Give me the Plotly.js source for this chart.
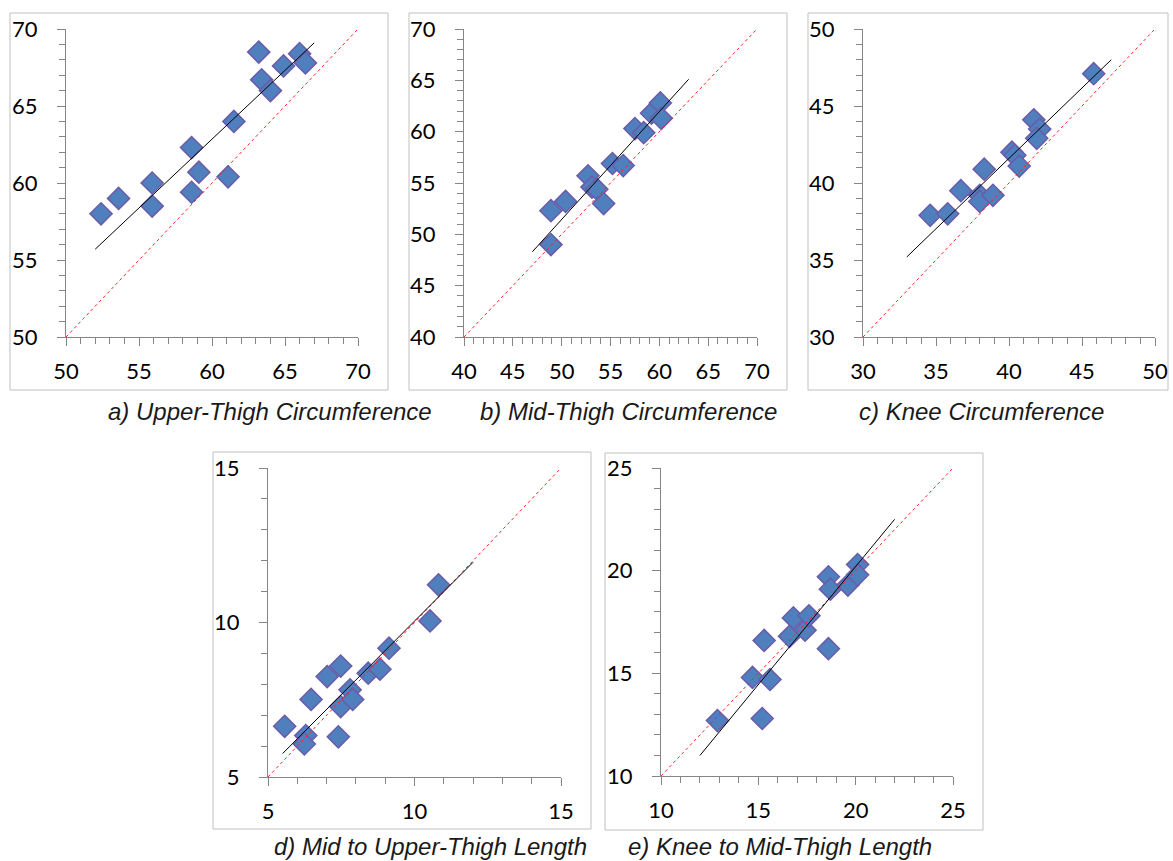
<!DOCTYPE html>
<html>
<head>
<meta charset="utf-8">
<script src="https://cdn.plot.ly/plotly-3.0.1.min.js"></script>
<style>html,body{margin:0;padding:0;background:#fff;}#chart{width:1173px;height:861px;}</style>
</head>
<body>
<div id="chart"></div>
<script>
// ---- data ----
const captions = ["a) Upper-Thigh Circumference", "b) Mid-Thigh Circumference", "c) Knee Circumference", "d) Mid to Upper-Thigh Length", "e) Knee to Mid-Thigh Length"];

const aX = [52.4, 53.6, 55.9, 55.9, 58.6, 58.6, 59.1, 61.1, 61.5, 63.2, 63.4, 64.0, 64.9, 66.0, 66.4];
const aY = [58.0, 59.0, 60.0, 58.5, 62.3, 59.4, 60.7, 60.4, 64.0, 68.5, 66.7, 66.0, 67.6, 68.4, 67.8];
const aTrendX = [52, 67], aTrendY = [55.7, 69.1];
const aRange = [50, 70];

const bX = [48.9, 48.9, 50.4, 52.7, 53.1, 53.6, 54.3, 55.2, 56.3, 57.5, 58.4, 59.2, 60.1, 60.2];
const bY = [49.0, 52.3, 53.2, 55.7, 54.6, 54.4, 53.0, 56.9, 56.7, 60.3, 59.9, 61.8, 62.8, 61.3];
const bTrendX = [47, 63], bTrendY = [48.3, 65.1];
const bRange = [40, 70];

const cX = [34.6, 35.8, 36.7, 38.0, 38.0, 38.9, 38.3, 40.2, 40.4, 40.7, 41.7, 42.1, 41.9, 45.8];
const cY = [37.9, 38.0, 39.5, 39.2, 38.8, 39.2, 40.9, 42.0, 41.8, 41.1, 44.1, 43.5, 42.9, 47.1];
const cTrendX = [33, 47], cTrendY = [35.2, 48.0];
const cRange = [30, 50];

const dX = [5.57, 6.29, 6.24, 6.47, 7.02, 7.48, 7.40, 7.48, 7.80, 7.89, 8.42, 8.82, 9.13, 10.53, 10.82];
const dY = [6.64, 6.34, 6.07, 7.51, 8.25, 8.59, 6.30, 7.28, 7.82, 7.51, 8.36, 8.49, 9.17, 10.05, 11.22];
const dTrendX = [5.5, 12], dTrendY = [5.76, 11.95];
const dRange = [5, 15];

const eX = [12.9, 15.2, 14.7, 15.6, 15.3, 16.6, 16.8, 17.4, 17.6, 18.6, 18.6, 18.7, 19.6, 20.1, 20.1];
const eY = [12.7, 12.8, 14.8, 14.7, 16.6, 16.8, 17.7, 17.1, 17.8, 16.2, 19.7, 19.1, 19.3, 20.3, 19.8];
const eTrendX = [12, 22], eTrendY = [11.0, 22.5];
const eRange = [10, 25];

// ---- layout geometry (pixels) ----
const W = 1173, H = 861;
const panels = [
  {x: aX, y: aY, tx: aTrendX, ty: aTrendY, r: aRange, plot: [66, 358, 29, 337], frame: [10, 13, 388, 390], cap: [270, 411]},
  {x: bX, y: bY, tx: bTrendX, ty: bTrendY, r: bRange, plot: [464, 757, 29, 337], frame: [409, 13, 787, 390], cap: [628, 411]},
  {x: cX, y: cY, tx: cTrendX, ty: cTrendY, r: cRange, plot: [863, 1155, 29, 337], frame: [808, 13, 1168, 390], cap: [981, 411]},
  {x: dX, y: dY, tx: dTrendX, ty: dTrendY, r: dRange, plot: [268, 561, 468, 777], frame: [213, 452, 591, 829], cap: [430, 846]},
  {x: eX, y: eY, tx: eTrendX, ty: eTrendY, r: eRange, plot: [661, 953, 468, 776], frame: [605, 453, 983, 830], cap: [780, 846]}
];

const px = v => v / W;
const py = v => 1 - v / H;
const axisColor = '#868686';

const traces = [];
const layout = {
  width: W, height: H,
  margin: {l: 0, r: 0, t: 0, b: 0},
  paper_bgcolor: '#fff', plot_bgcolor: 'rgba(0,0,0,0)',
  showlegend: false,
  shapes: [], annotations: []
};

function axis(range, dom, anchor, standoff) {
  return {
    range: range, domain: dom, anchor: anchor,
    tick0: range[0], dtick: 5,
    showline: true, linecolor: axisColor, linewidth: 1,
    ticks: 'outside', ticklen: 8, tickcolor: axisColor, tickwidth: 1,
    minor: {dtick: 1, tick0: range[0], ticks: 'outside', ticklen: 6, tickcolor: axisColor, tickwidth: 1, showgrid: false},
    showgrid: false, zeroline: false,
    tickfont: {family: 'Lato, Carlito, Calibri, sans-serif', size: 22, color: '#000'},
    ticklabelstandoff: standoff,
    fixedrange: true
  };
}

panels.forEach((p, i) => {
  const n = i === 0 ? '' : String(i + 1);
  const xa = 'x' + n, ya = 'y' + n;
  layout['xaxis' + n] = axis(p.r, [px(p.plot[0]), px(p.plot[1])], ya, 7);
  layout['yaxis' + n] = axis(p.r, [py(p.plot[3]), py(p.plot[2])], xa, 15);

  traces.push({
    type: 'scatter', mode: 'markers', x: p.x, y: p.y, xaxis: xa, yaxis: ya,
    marker: {symbol: 'diamond', size: 17, color: '#4f7fbd', line: {color: '#6a5ca8', width: 1.5}},
    hoverinfo: 'skip'
  });
  traces.push({
    type: 'scatter', mode: 'lines', x: p.r, y: p.r, xaxis: xa, yaxis: ya,
    line: {color: '#ff2020', width: 1, dash: 'dot'}, hoverinfo: 'skip'
  });
  traces.push({
    type: 'scatter', mode: 'lines', x: p.tx, y: p.ty, xaxis: xa, yaxis: ya,
    line: {color: '#000', width: 1}, hoverinfo: 'skip'
  });

  layout.shapes.push({
    type: 'rect', xref: 'paper', yref: 'paper',
    x0: px(p.frame[0]), x1: px(p.frame[2]), y0: py(p.frame[3]), y1: py(p.frame[1]),
    line: {color: '#c0c0c0', width: 1}, fillcolor: 'rgba(0,0,0,0)', layer: 'below'
  });
  layout.annotations.push({
    xref: 'paper', yref: 'paper', x: px(p.cap[0]), y: py(p.cap[1]),
    xanchor: 'center', yanchor: 'middle', showarrow: false,
    text: '<i>' + captions[i] + '</i>',
    font: {family: '"Liberation Sans", Arial, sans-serif', size: 24, color: '#1a1a1a'}
  });
});

Plotly.newPlot('chart', traces, layout, {staticPlot: true, displayModeBar: false});
</script>
</body>
</html>
